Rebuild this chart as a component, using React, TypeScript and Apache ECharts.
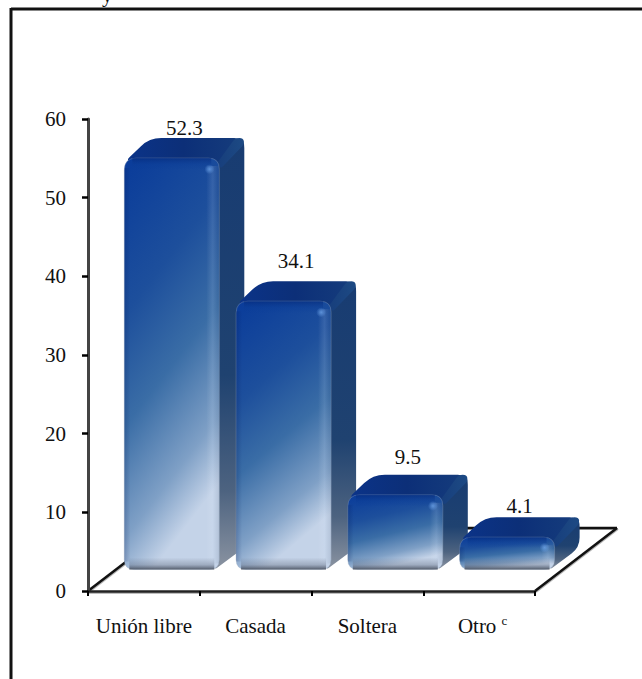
import React, { useEffect, useRef } from "react";
import * as echarts from "echarts";

const categories = ["Unión libre", "Casada", "Soltera", "Otro"];
const values = [52.3, 34.1, 9.5, 4.1];
const valueLabels = ["52.3", "34.1", "9.5", "4.1"];
const yTicks = { min: 0, max: 60, interval: 10 };

const FONT = '"Liberation Serif", "Times New Roman", serif';
const FS = 21;
const DEPTH_X = 25;
const DEPTH_Y = 20;
const labelGaps = [10, 20, 18, 11];

type P = [number, number];
function roundedPath(pts: P[], radii: number[]): string {
  const n = pts.length;
  let d = "";
  for (let i = 0; i < n; i++) {
    const p = pts[i];
    const a = pts[(i + n - 1) % n];
    const b = pts[(i + 1) % n];
    const r = radii[i];
    const la = Math.hypot(a[0] - p[0], a[1] - p[1]) || 1;
    const lb = Math.hypot(b[0] - p[0], b[1] - p[1]) || 1;
    const ra = Math.min(r, la / 2);
    const rb = Math.min(r, lb / 2);
    const s: P = [p[0] + ((a[0] - p[0]) * ra) / la, p[1] + ((a[1] - p[1]) * ra) / la];
    const e: P = [p[0] + ((b[0] - p[0]) * rb) / lb, p[1] + ((b[1] - p[1]) * rb) / lb];
    d += `${i === 0 ? "M" : "L"}${s[0].toFixed(1)} ${s[1].toFixed(1)}Q${p[0].toFixed(1)} ${p[1].toFixed(1)} ${e[0].toFixed(1)} ${e[1].toFixed(1)}`;
  }
  return d + "Z";
}

const lin = (x: number, y: number, x2: number, y2: number, stops: [number, string][]) => ({
  type: "linear",
  x,
  y,
  x2,
  y2,
  colorStops: stops.map(([offset, color]) => ({ offset, color })),
});

function renderBar(params: any, api: any) {
  const i = api.value(0);
  const v = api.value(1);
  const top = api.coord([i, v]);
  const base = api.coord([i, 0]);
  const band = api.size([1, 0])[0];
  const w = band * 0.85;
  const cx = base[0] + band * 0.25;
  const x0 = cx - w / 2;
  const x1 = cx + w / 2;
  const lift = 21.5;
  const yb = base[1] - lift;
  const yt = top[1] - lift;
  const h = yb - yt;
  const bev = Math.min(12, h / 3);

  const side = roundedPath(
    [
      [x1 - 8, yt],
      [x1 + DEPTH_X - 6, yt - DEPTH_Y],
      [x1 + DEPTH_X, yt - DEPTH_Y + 2],
      [x1 + DEPTH_X, yb - DEPTH_Y - 2],
      [x1 - 5, yb + 0.5],
    ],
    [2, 5, 8, 10, 4]
  );
  const topFace = roundedPath(
    [
      [x0 + 1, yt + 3],
      [x0 + DEPTH_X, yt - DEPTH_Y],
      [x1 + DEPTH_X - 2, yt - DEPTH_Y],
      [x1 + 2, yt + 4],
    ],
    [6, 12, 8, 3]
  );
  const topEdge = roundedPath(
    [
      [x1 - 3, yt + 6],
      [x1 + DEPTH_X - 9, yt - DEPTH_Y],
      [x1 + DEPTH_X - 1, yt - DEPTH_Y],
      [x1 + DEPTH_X, yt - DEPTH_Y + 6],
      [x1 + 2, yt + 10],
    ],
    [2, 4, 6, 3, 2]
  );
  const front = roundedPath(
    [
      [x0, yt],
      [x1, yt],
      [x1, yb],
      [x0, yb],
    ],
    [12, 11, 10, 10]
  );

  const children: any[] = [
    { type: "path", shape: { pathData: side }, style: { fill: lin(0, 0, 0, 1, [[0, "#183c72"], [0.55, "#1f4270"], [0.82, "#4d6380"], [1, "#8a93a1"]]) } },
    { type: "path", shape: { pathData: topFace }, style: { fill: lin(0, 0, 1, 0, [[0, "#0b3388"], [0.5, "#0c2f78"], [1, "#153c7c"]]) } },
    { type: "path", shape: { pathData: topEdge }, style: { fill: lin(0, 0, 1, 0, [[0, "#173e7c"], [1, "#1d4a84"]]) } },
    {
      type: "path",
      shape: { pathData: front },
      style: {
        fill: lin(0, 0, 0.3, 1, [[0, "#093b9a"], [0.35, "#1d4f9c"], [0.6, "#3a6da6"], [0.85, "#7fa0c6"], [1, "#c4d3e8"]]),
        stroke: "rgba(150,165,190,0.5)",
        lineWidth: 0.7,
      },
    },
    // bevels of the front face
    { type: "rect", shape: { x: x0 + 8, y: yt, width: w - 16, height: bev }, style: { fill: lin(0, 0, 0, 1, [[0, "rgba(4,40,120,0.6)"], [0.55, "rgba(10,60,150,0.35)"], [1, "rgba(10,60,150,0)"]]) } },
    { type: "rect", shape: { x: x1 - 13, y: yt + 8, width: 13, height: h - 14 }, style: { fill: lin(0, 0, 1, 0, [[0, "rgba(255,255,255,0)"], [0.5, "rgba(220,235,255,0.14)"], [1, "rgba(60,80,110,0.12)"]]) } },
    { type: "rect", shape: { x: x0, y: yt + 10, width: 6, height: h - 18 }, style: { fill: lin(0, 0, 1, 0, [[0, "rgba(0,20,80,0.2)"], [1, "rgba(0,20,80,0)"]]) } },
    { type: "rect", shape: { x: x0 + 5, y: yb - 12, width: w - 10, height: 12 }, style: { fill: lin(0, 0, 0, 1, [[0, "rgba(90,100,120,0)"], [0.6, "rgba(90,100,120,0.35)"], [1, "rgba(70,78,92,0.9)"]]) } },
    { type: "circle", shape: { cx: x1 - 10, cy: yt + 10, r: 5 }, style: { fill: { type: "radial", x: 0.5, y: 0.5, r: 0.5, colorStops: [{ offset: 0, color: "rgba(110,165,235,0.75)" }, { offset: 1, color: "rgba(110,165,235,0)" }] } } },
    {
      type: "text",
      style: {
        text: valueLabels[i],
        x: cx + DEPTH_X / 2,
        y: yt - DEPTH_Y - labelGaps[i],
        align: "center",
        verticalAlign: "middle",
        fontFamily: FONT,
        fontSize: FS,
        fill: "#111",
      },
    },
  ];
  return { type: "group", children };
}

function renderFloor(params: any) {
  const c = params.coordSys;
  const l = c.x;
  const r = c.x + c.width;
  const b = c.y + c.height;
  const dx = 82;
  const dy = 63;
  const edges = [
    [l, b, l + dx, b - dy],
    [l + dx, b - dy, r + dx, b - dy],
    [r + dx, b - dy, r, b],
  ];
  const children: any[] = [];
  for (const [x1, y1, x2, y2] of edges) {
    children.push({ type: "line", shape: { x1: x1 + 1, y1: y1 + 1, x2: x2 + 1, y2: y2 + 1 }, style: { stroke: "#b5b5b5", lineWidth: 2 } });
    children.push({ type: "line", shape: { x1, y1, x2, y2 }, style: { stroke: "#111", lineWidth: 2.5 } });
  }
  children.push({ type: "line", shape: { x1: l + 1, y1: b + 2, x2: r, y2: b + 2 }, style: { stroke: "#bdbdbd", lineWidth: 2 } });
  return { type: "group", children };
}

export default function App() {
  const ref = useRef<HTMLDivElement>(null);
  useEffect(() => {
    const chart = echarts.init(ref.current!, undefined, { renderer: "svg" });
    chart.setOption({
      animation: false,
      backgroundColor: "#fff",
      grid: { left: 88, right: 107, top: 119, bottom: 88 },
      xAxis: {
        type: "category",
        z: 2,
        data: categories,
        boundaryGap: true,
        axisLine: { lineStyle: { color: "#222", width: 2.5 } },
        axisTick: { show: true, length: 5, alignWithLabel: false, lineStyle: { color: "#000", width: 2 } },
        axisLabel: {
          margin: 23,
          color: "#111",
          fontFamily: FONT,
          fontSize: FS,
          interval: 0,
          formatter: (n: string) => (n === "Otro" ? `{o|Otro} {sup|c}` : `{b|${n}}`),
          rich: {
            b: { fontFamily: FONT, fontSize: FS, color: "#111", lineHeight: 24 },
            o: { fontFamily: FONT, fontSize: FS, color: "#111", lineHeight: 24, padding: [0, 0, 0, 7] },
            sup: { fontFamily: FONT, fontSize: 13, color: "#111", lineHeight: 24, verticalAlign: "top", padding: [0, 0, 9, 0] },
          },
        },
      },
      yAxis: {
        type: "value",
        z: 2,
        min: yTicks.min,
        max: yTicks.max,
        interval: yTicks.interval,
        splitLine: { show: false },
        axisLine: { show: true, lineStyle: { color: "#444", width: 3 } },
        axisTick: { show: true, length: 6, lineStyle: { color: "#000", width: 2.5 } },
        axisLabel: { margin: 22, color: "#111", fontFamily: FONT, fontSize: FS },
      },
      graphic: [
        { type: "line", shape: { x1: 11, y1: 9, x2: 642, y2: 9 }, style: { stroke: "#111", lineWidth: 3 }, silent: true },
        { type: "line", shape: { x1: 11, y1: 8, x2: 11, y2: 679 }, style: { stroke: "#111", lineWidth: 3 }, silent: true },
        { type: "text", x: 102, y: 5, style: { text: "y", fontFamily: FONT, fontSize: FS, fill: "#111", verticalAlign: "bottom" }, silent: true },
      ],
      series: [
        { type: "custom", name: "floor", data: [[0, 0]], renderItem: renderFloor, silent: true, clip: false, z: 1 },
        {
          type: "custom",
          name: "bars",
          data: categories.map((_, i) => [i, values[i]]),
          encode: { x: 0, y: 1 },
          renderItem: renderBar,
          silent: true,
          clip: false,
          z: 3,
        },
      ],
    });
    return () => chart.dispose();
  }, []);
  return <div ref={ref} style={{ position: "fixed", left: 0, top: 0, width: 642, height: 679 }} />;
}
